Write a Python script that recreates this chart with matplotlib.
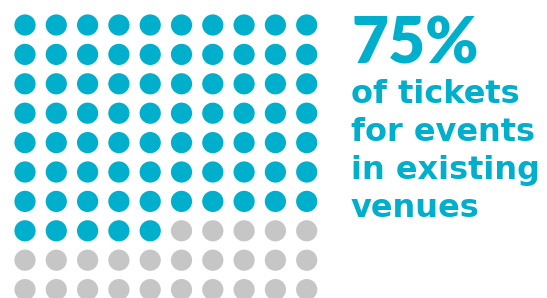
import matplotlib
matplotlib.use("Agg")
import matplotlib.pyplot as plt
from matplotlib.patches import Circle

# data
share_pct = 75
n_rows = 10
n_cols = 10
headline = "75%"
caption_lines = ["of tickets", "for events", "in existing", "venues"]

BLUE = "#00AFCB"
GREY = "#C6C6C6"

W, H = 547, 298
fig = plt.figure(figsize=(W / 100, H / 100), dpi=100)
ax = fig.add_axes([0, 0, 1, 1])
ax.set_xlim(0, W)
ax.set_ylim(H, 0)
ax.axis("off")

# waffle grid, filled row by row from the top-left
x0, y0 = 25, 25
dx, dy = 31.3, 29.4
r = 10.6
for i in range(n_rows * n_cols):
    row, col = divmod(i, n_cols)
    color = BLUE if i < share_pct else GREY
    ax.add_patch(Circle((x0 + col * dx, y0 + row * dy), r, color=color, lw=0))

ax.text(351, 63, headline, color=BLUE, fontsize=46, fontweight="heavy",
        family="Lato", ha="left", va="baseline")
for k, line in enumerate(caption_lines):
    ax.text(351, 103 + k * 38, line, color=BLUE, fontsize=23, fontweight="bold",
            family="DejaVu Sans", ha="left", va="baseline")

fig.savefig("out.png", dpi=100)
